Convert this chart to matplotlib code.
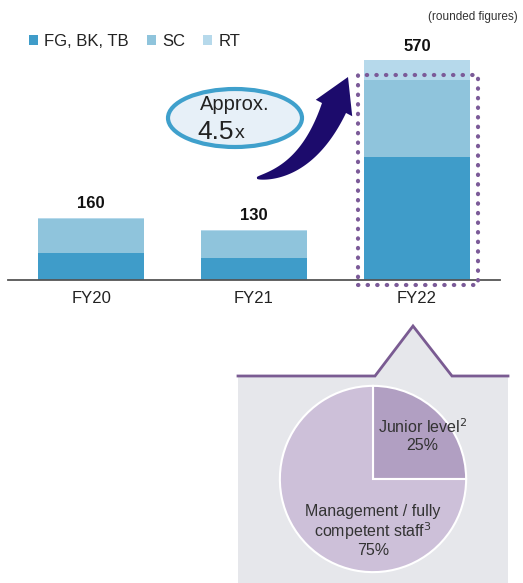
import matplotlib.pyplot as plt
import numpy as np
from matplotlib.patches import Rectangle, Ellipse, Polygon

plt.rcParams['font.family'] = ['Liberation Sans', 'DejaVu Sans']

# datos
anios = ['FY20', 'FY21', 'FY22']
fg = [70, 58, 320]
sc = [88, 70, 200]
rt = [2, 2, 50]
totales = [160, 130, 570]
series = ['FG, BK, TB', 'SC', 'RT']
colores = ['#3f9cc9', '#8fc4dc', '#b6d9eb']

pie_labels = ['Junior level$^{2}$\n25%', 'Management / fully\ncompetent staff$^{3}$\n75%']
pie_vals = [25, 75]
pie_colores = ['#b19fc2', '#cdc0d9']

W, H = 523, 583
fig = plt.figure(figsize=(W / 100, H / 100), dpi=100)


def caja(x0, y0, x1, y1):
    # pixeles (y hacia abajo) -> coords de figura
    return [x0 / W, 1 - y1 / H, (x1 - x0) / W, (y1 - y0) / H]


# capa de fondo en pixeles
fondo = fig.add_axes([0, 0, 1, 1])
fondo.set_xlim(0, W)
fondo.set_ylim(H, 0)
fondo.axis('off')

# caja gris con el triangulo
fondo.add_patch(Rectangle((238, 376), 270, 210, facecolor='#e6e7eb', edgecolor='none'))
fondo.add_patch(Polygon([(375, 376), (413, 326), (452, 376)], closed=True,
                        facecolor='#e6e7eb', edgecolor='none'))
fondo.plot([238, 375, 413, 452, 508], [376, 376, 326, 376, 376], color='#7a5b92', lw=2,
           solid_joinstyle='miter')

# barras
ax = fig.add_axes(caja(8, 20, 500, 280))
x = np.arange(len(anios))
b1 = ax.bar(x, fg, width=0.65, color=colores[0], label=series[0])
b2 = ax.bar(x, sc, width=0.65, bottom=fg, color=colores[1], label=series[1])
base = np.array(fg) + np.array(sc)
b3 = ax.bar(x, rt, width=0.65, bottom=base, color=colores[2], label=series[2])
ax.set_xlim(-0.51, 2.51)
ax.set_ylim(0, 675)
for s in ['top', 'right', 'left']:
    ax.spines[s].set_visible(False)
ax.spines['bottom'].set_color('#555555')
ax.spines['bottom'].set_linewidth(1.3)
ax.set_yticks([])
ax.set_xticks(x)
ax.set_xticklabels(anios, fontsize=12, color='#222222')
ax.tick_params(axis='x', length=0, pad=8)
ax.patch.set_alpha(0)
for i, t in enumerate(totales):
    ax.text(i, t + 18, str(t), ha='center', va='bottom', fontsize=12, fontweight='bold',
            color='#111111')

# rectangulo punteado FY22
ax.add_patch(Rectangle((2 - 0.362, -13), 0.736, 545, fill=False, edgecolor='#7b5a98',
                       lw=3, linestyle=(0, (0.1, 2.2)), capstyle='round', clip_on=False,
                       zorder=5))

leg = fig.legend(handles=[b1, b2, b3], labels=series, loc='center left',
                 bbox_to_anchor=(14 / W, 1 - 41 / H), ncol=3, frameon=False,
                 fontsize=12, handlelength=0.55, handleheight=0.55, handletextpad=0.35,
                 columnspacing=1.1, labelcolor='#222222')

fig.text(518 / W, 1 - 17 / H, '(rounded figures)', ha='right', va='center', fontsize=8.5,
         color='#333333')

# capa superior: elipse y flecha
top = fig.add_axes([0, 0, 1, 1])
top.set_xlim(0, W)
top.set_ylim(H, 0)
top.axis('off')
top.patch.set_alpha(0)
top.add_patch(Ellipse((235, 118), 134, 58, facecolor='#e7f0f8', edgecolor='#3fa0cc', lw=3))
top.text(235, 104, 'Approx.', ha='center', va='center', fontsize=14.5, color='#222222')
top.text(234, 132, '4.5', ha='right', va='center', fontsize=19, color='#222222')
top.text(235, 134, 'x', ha='left', va='center', fontsize=14, color='#222222')

# flecha curva que se ensancha
A = np.array([257.0, 178.0])
B = np.array([334.0, 108.0])
punta = np.array([348.0, 77.0])
d = (punta - B) / np.linalg.norm(punta - B)
C = B - 2.2 * np.array([12.0, -29.0])
t = np.linspace(0, 1, 60)[:, None]
curva = (1 - t) ** 2 * A + 2 * (1 - t) * t * C + t ** 2 * B
tang = 2 * (1 - t) * (C - A) + 2 * t * (B - C)
tang = tang / np.linalg.norm(tang, axis=1, keepdims=True)
normal = np.column_stack([-tang[:, 1], tang[:, 0]])
ancho = (1 + 12 * t[:, 0] ** 0.7)[:, None]
lado1 = curva + normal * ancho
lado2 = curva - normal * ancho
nb = np.array([-d[1], d[0]])
cabeza = [B + nb * 20, punta, B - nb * 20]
pts = np.vstack([lado1, [cabeza[0]], [cabeza[1]], [cabeza[2]], lado2[::-1]])
top.add_patch(Polygon(pts, closed=True, facecolor='#1c0b6c', edgecolor='none'))

# pastel
axp = fig.add_axes(caja(278, 384, 468, 574))
axp.pie(pie_vals, colors=pie_colores, startangle=90, counterclock=False, radius=1,
        wedgeprops=dict(edgecolor='white', linewidth=1.5))
axp.set_xlim(-1.02, 1.02)
axp.set_ylim(-1.02, 1.02)
axp.set_aspect('equal')
axp.text(0.53, 0.47, pie_labels[0], ha='center', va='center', fontsize=11.5,
         color='#333333', linespacing=1.1)
axp.text(0.0, -0.56, pie_labels[1], ha='center', va='center', fontsize=11.5,
         color='#333333', linespacing=1.1)

fig.savefig('out.png', dpi=100)
